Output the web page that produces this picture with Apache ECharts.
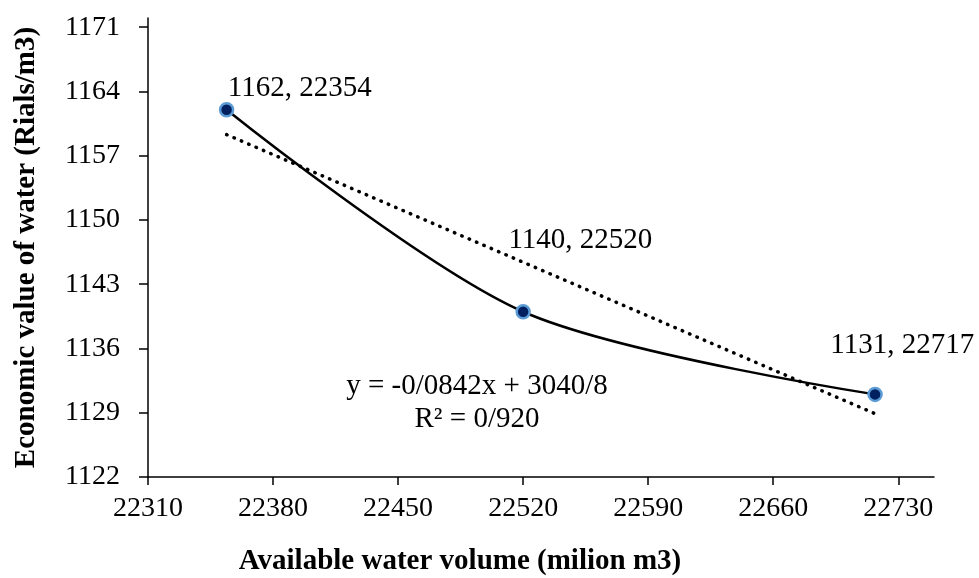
<!DOCTYPE html>
<html>
<head>
<meta charset="utf-8">
<script src="https://cdn.jsdelivr.net/npm/echarts@6/dist/echarts.min.js"></script>
<style>
  html, body { margin: 0; padding: 0; background: #fff; }
  #chart { width: 979px; height: 578px; }
</style>
</head>
<body>
<div id="chart"></div>
<script>
// data
const volumes = [22354, 22520, 22717];      // x, million m3
const waterValues = [1162, 1140, 1131];     // y, Rials/m3
const trendX = [22354, 22717];
const trendY = [1159.3, 1128.9];            // dotted linear trend ends
const xTicks = [22310, 22380, 22450, 22520, 22590, 22660, 22730];
const yTicks = [1122, 1129, 1136, 1143, 1150, 1157, 1164, 1171];
const equationLines = ['y = -0/0842x + 3040/8', 'R² = 0/920'];

// label offsets per point (style only)
const labelPos = [[9, -28], [-7, -78], [-37, -56]];

const FONT = '"Liberation Serif", "Times New Roman", serif';
const FONTCOLOR = '#000';
const fontSize = 28;
const bigFont = 29;

const myChart = echarts.init(document.getElementById('chart'));

myChart.setOption({
  animation: false,
  backgroundColor: '#fff',
  textStyle: { fontFamily: FONT },
  grid: {
    left: 148,
    right: 45,
    top: 18,
    bottom: 101,
    containLabel: false,
    outerBoundsMode: 'none'
  },
  xAxis: {
    type: 'value',
    min: 22310,
    max: 22750,
    name: 'Available water volume (milion m3)',
    nameLocation: 'middle',
    nameGap: 70,
    nameTextStyle: {
      fontFamily: FONT,
      fontWeight: 'bold',
      fontSize: bigFont,
      color: FONTCOLOR,
      padding: [0, 162, 0, 0]
    },
    axisLine: { lineStyle: { color: FONTCOLOR, width: 1.5 } },
    axisTick: { length: 8, lineStyle: { color: FONTCOLOR, width: 1.5 }, customValues: xTicks },
    axisLabel: {
      fontFamily: FONT, fontSize, color: FONTCOLOR, margin: 18,
      customValues: xTicks,
      formatter: v => String(v)
    },
    splitLine: { show: false }
  },
  yAxis: {
    type: 'value',
    min: 1122,
    max: 1172,
    name: 'Economic value of water (Rials/m3)',
    nameLocation: 'middle',
    nameGap: 107,
    nameTextStyle: {
      fontFamily: FONT,
      fontWeight: 'bold',
      fontSize: bigFont,
      color: FONTCOLOR
    },
    axisLine: { show: true, lineStyle: { color: FONTCOLOR, width: 1.5 } },
    axisTick: { show: true, length: 9, lineStyle: { color: FONTCOLOR, width: 1.5 }, customValues: yTicks },
    axisLabel: {
      fontFamily: FONT, fontSize, color: FONTCOLOR, margin: 28,
      customValues: yTicks,
      formatter: v => String(v)
    },
    splitLine: { show: false }
  },
  graphic: equationLines.map((t, i) => ({
    type: 'text',
    x: 477,
    y: 386 + i * 33,
    style: {
      text: t,
      font: bigFont + 'px ' + FONT,
      fill: FONTCOLOR,
      align: 'center',
      verticalAlign: 'middle'
    }
  })),
  series: [
    {
      name: 'trend',
      type: 'line',
      data: trendX.map((x, i) => [x, trendY[i]]),
      showSymbol: false,
      silent: true,
      lineStyle: { color: '#000', width: 3.5, type: [0.5, 7.5], cap: 'round' },
      z: 1
    },
    {
      name: 'value',
      type: 'line',
      smooth: 0.3,
      data: volumes.map((x, i) => ({
        value: [x, waterValues[i]],
        label: { position: labelPos[i] }
      })),
      symbol: 'circle',
      symbolSize: 13,
      lineStyle: { color: '#000', width: 2.5 },
      itemStyle: { color: '#002060', borderColor: '#5b9bd5', borderWidth: 2.5 },
      label: {
        show: true,
        fontFamily: FONT,
        fontSize: bigFont,
        color: FONTCOLOR,
        formatter: p => p.value[1] + ', ' + p.value[0]
      },
      z: 2
    }
  ]
});
</script>
</body>
</html>
